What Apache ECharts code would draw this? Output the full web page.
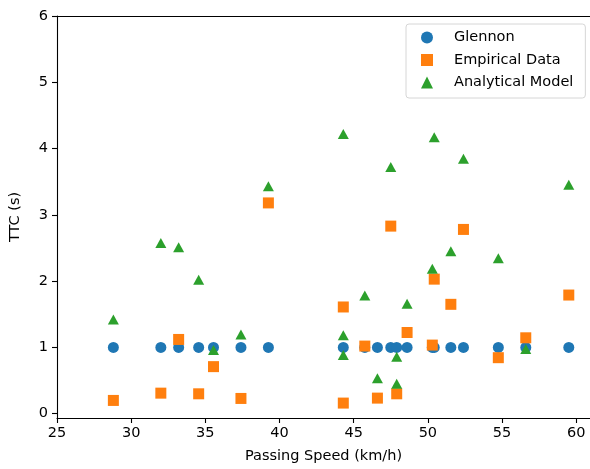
<!DOCTYPE html>
<html>
<head>
<meta charset="utf-8">
<script src="https://cdn.jsdelivr.net/npm/echarts@6/dist/echarts.min.js"></script>
<style>
  html, body { margin: 0; padding: 0; background: #fff; }
  #chart { width: 590px; height: 469px; }
</style>
</head>
<body>
<div id="chart"></div>
<script>
// Glennon: constant TTC of 1 s
const glennonSpeed = [28.8, 32.0, 33.2, 34.55, 35.55, 37.4, 39.25, 44.3, 45.75, 46.6, 47.5, 47.9, 48.6, 50.3, 50.43, 51.55, 52.4, 54.75, 56.6, 59.5]
const glennonTTC = [1, 1, 1, 1, 1, 1, 1, 1, 1, 1, 1, 1, 1, 1, 1, 1, 1, 1, 1, 1]

const empiricalSpeed = [28.8, 32.0, 33.2, 34.55, 35.55, 37.4, 39.25, 44.3, 44.3, 45.75, 46.6, 47.5, 47.9, 48.6, 50.3, 50.43, 51.55, 52.4, 54.75, 56.6, 59.5]
const empiricalTTC = [0.20, 0.31, 1.12, 0.30, 0.71, 0.23, 3.18, 1.61, 0.16, 1.02, 0.235, 2.83, 0.30, 1.225, 1.035, 2.03, 1.65, 2.78, 0.845, 1.145, 1.79]

const analyticalSpeed = [28.8, 32.0, 33.2, 34.55, 35.55, 37.4, 39.25, 44.3, 44.3, 44.3, 45.75, 46.6, 47.5, 47.9, 47.9, 48.6, 50.3, 50.43, 51.55, 52.4, 54.75, 56.6, 59.5]
const analyticalTTC = [1.42, 2.575, 2.51, 2.02, 0.96, 1.195, 3.43, 4.22, 1.185, 0.885, 1.785, 0.535, 3.72, 0.86, 0.45, 1.66, 2.185, 4.17, 2.45, 3.845, 2.345, 0.975, 3.455]

const xTicks = [25, 30, 35, 40, 45, 50, 55, 60]
const yTicks = [0, 1, 2, 3, 4, 5, 6]

const pairs = (xs, ys) => xs.map((x, i) => [x, ys[i]])

const font = 'DejaVu Sans'
const black = { color: '#000', width: 1.1 }
const chart = echarts.init(document.getElementById('chart'))

chart.setOption({
  animation: false,
  backgroundColor: '#fff',
  grid: { left: 51, right: -1, top: 16, bottom: 49 },
  legend: {
    orient: 'vertical',
    left: 406, top: 24,
    padding: [6, 12, 8, 15],
    itemWidth: 12, itemHeight: 12, itemGap: 7.5,
    backgroundColor: '#fff',
    borderColor: '#d6d6d6', borderWidth: 1, borderRadius: 3,
    textStyle: { fontFamily: font, fontSize: 14.5, color: '#000', lineHeight: 14, padding: [0, 0, 0, 16] },
    data: [
      { name: 'Glennon', icon: 'circle' },
      { name: 'Empirical Data', icon: 'rect' },
      { name: 'Analytical Model', icon: 'triangle' }
    ]
  },
  xAxis: [
    {
      type: 'value',
      min: 25, max: 60.93,
      name: 'Passing Speed (km/h)',
      nameLocation: 'middle', nameGap: 31,
      nameTextStyle: { fontFamily: font, fontSize: 14.5, color: '#000' },
      axisLine: { show: true, onZero: false, lineStyle: black },
      axisTick: { show: true, length: 5, lineStyle: black, customValues: xTicks },
      axisLabel: { fontFamily: font, fontSize: 14.5, color: '#000', margin: 8, customValues: xTicks },
      splitLine: { show: false }
    },
    {
      // top spine only
      type: 'value', position: 'top',
      min: 25, max: 60.93,
      axisLine: { show: true, onZero: false, lineStyle: black },
      axisTick: { show: false }, axisLabel: { show: false }, splitLine: { show: false }
    }
  ],
  yAxis: {
    type: 'value',
    min: -0.065, max: 6,
    name: 'TTC (s)',
    nameLocation: 'middle', nameGap: 34, nameRotate: 90,
    nameTextStyle: { fontFamily: font, fontSize: 14.5, color: '#000' },
    axisLine: { show: true, onZero: false, lineStyle: black },
    axisTick: { show: true, length: 5, lineStyle: black, customValues: yTicks },
    axisLabel: { fontFamily: font, fontSize: 14.5, color: '#000', margin: 9, customValues: yTicks },
    splitLine: { show: false }
  },
  series: [
    {
      name: 'Glennon', type: 'scatter', symbol: 'circle', symbolSize: 11,
      itemStyle: { color: '#1f77b4', opacity: 1 },
      data: pairs(glennonSpeed, glennonTTC)
    },
    {
      name: 'Empirical Data', type: 'scatter', symbol: 'rect', symbolSize: 11,
      itemStyle: { color: '#ff7f0e', opacity: 1 },
      data: pairs(empiricalSpeed, empiricalTTC)
    },
    {
      name: 'Analytical Model', type: 'scatter', symbol: 'triangle', symbolSize: [11, 10],
      itemStyle: { color: '#2ca02c', opacity: 1 },
      data: pairs(analyticalSpeed, analyticalTTC)
    }
  ]
})
</script>
</body>
</html>
